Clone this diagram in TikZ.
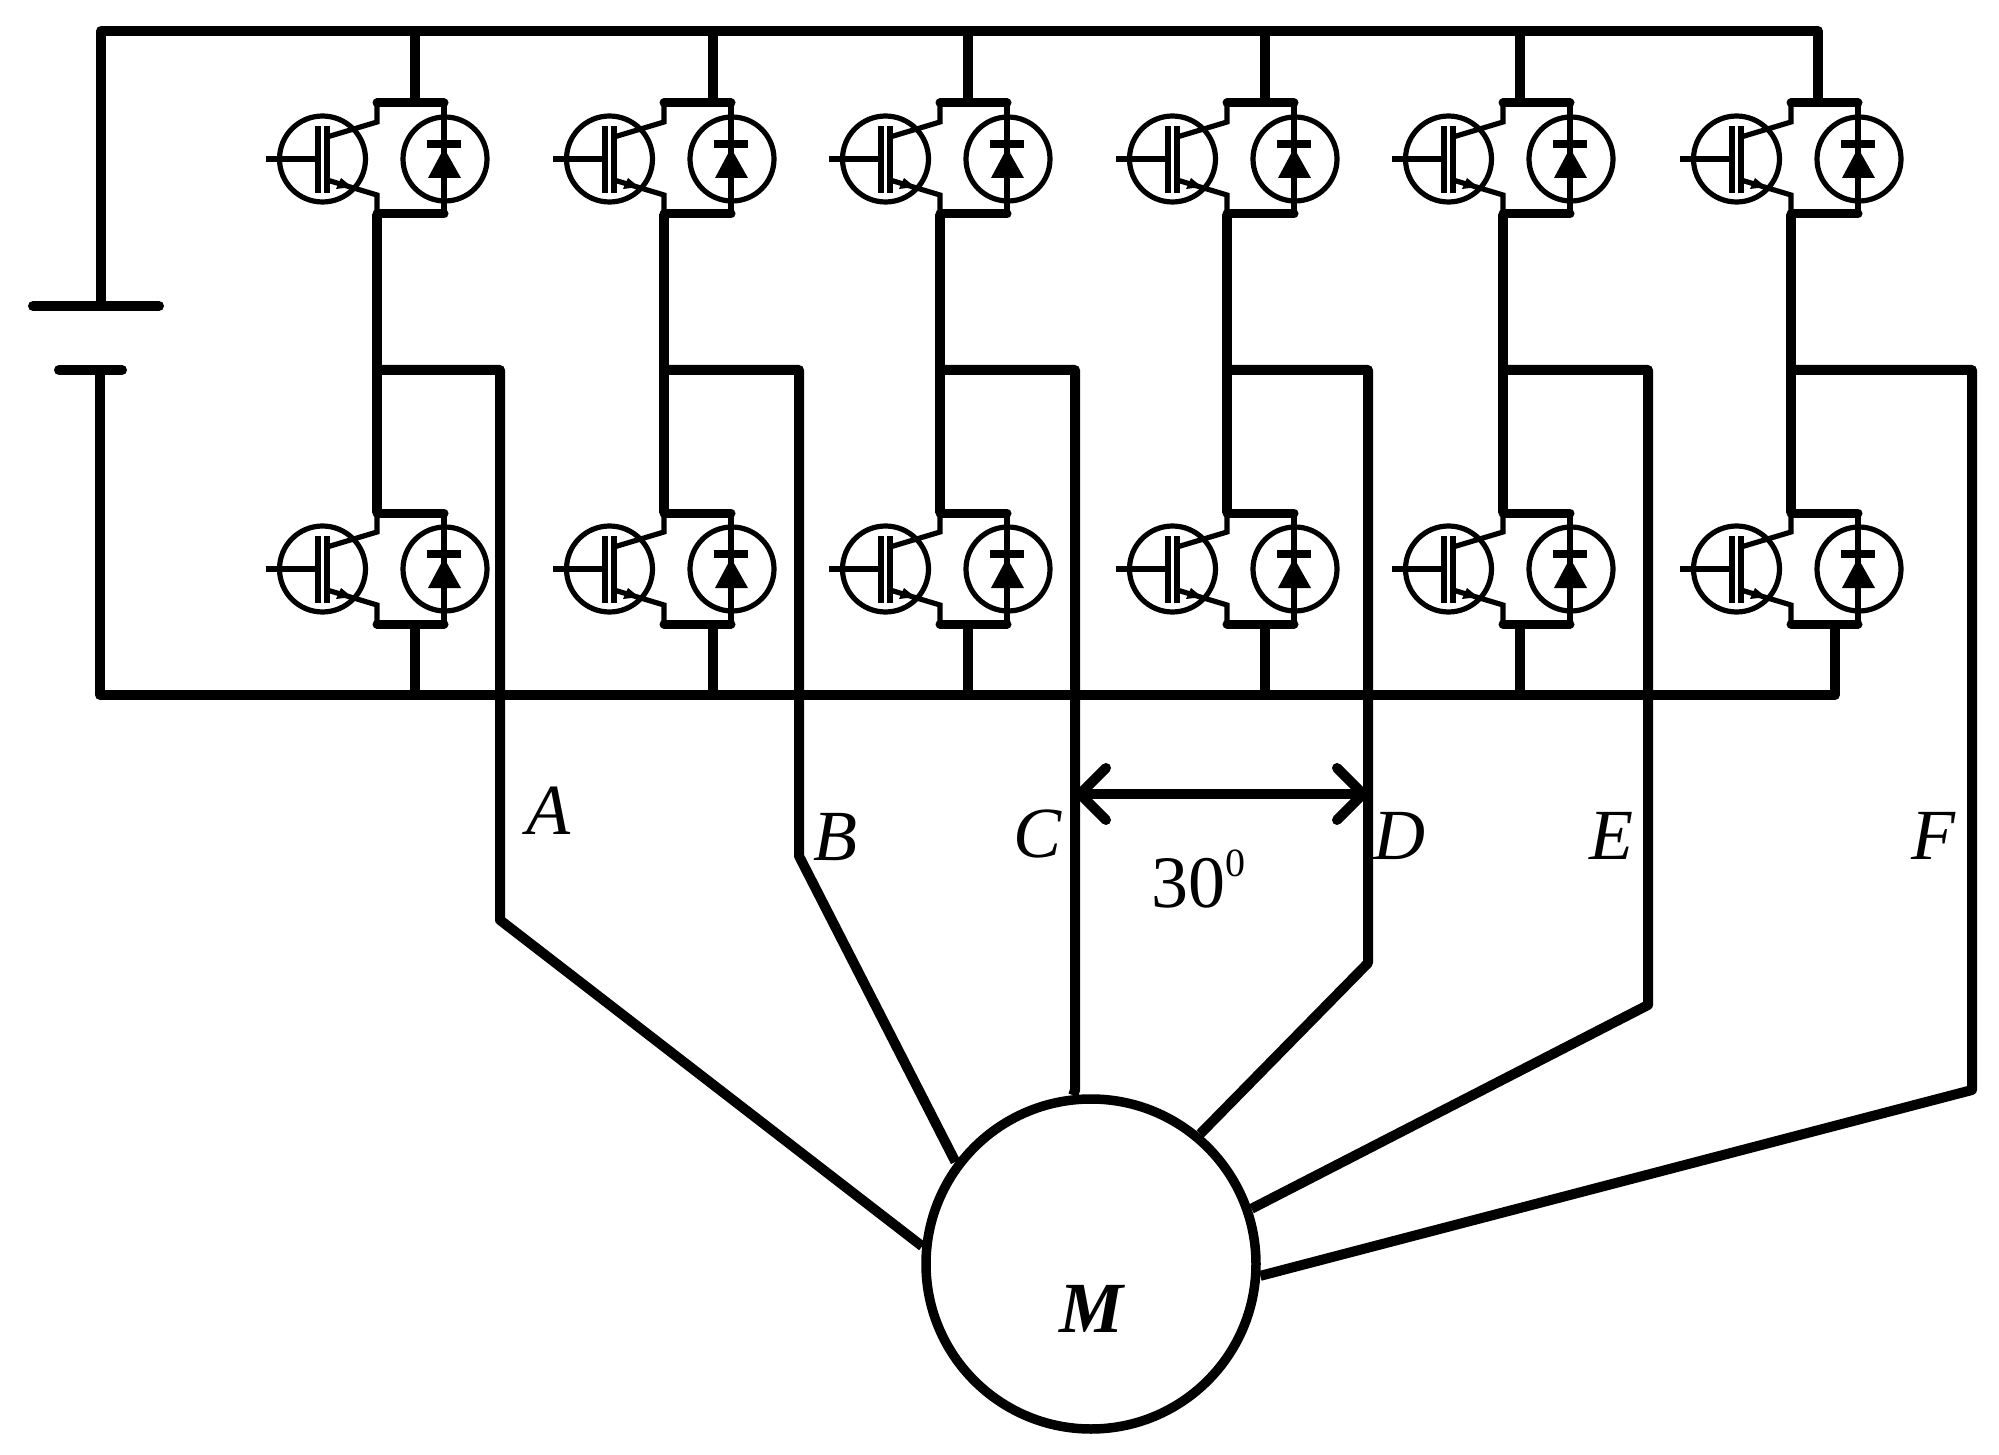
\documentclass[tikz,border=0pt]{standalone}
\usepackage{fontspec}
\setmainfont{Liberation Serif}
\usetikzlibrary{arrows.meta}

\tikzset{
    wire/.style = {line width = 5pt, line join = round},
    thinwire/.style = {line width = 2.6pt},
    barwire/.style = {line width = 4.5pt, line cap = round},
    phaselabel/.style = {font = \fontsize{36}{36}\selectfont\itshape, inner sep = 0pt, anchor = base},
    pics/igbtcell/.style = {code = {
        \draw[thinwire] (-54.5,0) circle (43);
        \draw[thinwire] (-111,0) -- (-59,0);
        \draw[line width = 3pt] (-59,-33) -- (-59,34);
        \draw[line width = 3pt] (-50,-33) -- (-50,34);
        \draw[thinwire] (-50,-22) -- (0,-37) -- (0,-56);
        \draw[thinwire] (-50,21) -- (0,36) -- (0,55);
        \fill (-36,19) -- (-41,30) -- (-25,28) -- cycle;
        \draw[thinwire] (68,0) circle (42);
        \draw[thinwire] (67,-56) -- (67,55);
        \fill (50,-19) rectangle (84,-11);
        \fill (67,-11) -- (84,19) -- (51,19) -- cycle;
        \draw[barwire] (0,-56) -- (67,-56);
        \draw[barwire] (0,55) -- (67,55);
        \coordinate (-top) at (0,-56);
        \coordinate (-bot) at (0,55);
    }},
}

\begin{document}
\begin{tikzpicture}[x = 0.5pt, y = -0.5pt]
\useasboundingbox (0,0) rectangle (1999,1455);

% battery and rails
\coordinate (railtop) at (101,31);
\coordinate (railbot) at (100,695);
\coordinate (platehi) at (101,306);
\coordinate (platelo) at (100,370);
\draw[wire, line cap = round] (33,306) -- (159,306);
\draw[wire, line cap = round] (59,370) -- (122,370);
\draw[wire] (platehi) -- (railtop) -- (1818,31) -- (1818,103);
\draw[wire] (platelo) -- (railbot) -- (1835,695) -- (1835,624);

\node[circle, draw, line width = 4.75pt, inner sep = 0pt, minimum size = 165pt] (motor) at (1091,1264) {};

% one leg per phase
\foreach \xc/\tp/\bt/\rx/\by/\ang/\name in {
    377/38/38/500/920/174.6/a,
    664/49/49/799/856/143/b,
    940/28/28/1075/1090/96/c,
    1227/38/38/1368/963/50.3/d,
    1503/17/17/1648/1005/19/e,
    1791/27/44/1972/1090/-4/f}
{
    \pic (up\name) at (\xc,159) {igbtcell};
    \pic (lo\name) at (\xc,569) {igbtcell};
    \coordinate (topstem\name) at (\xc+\tp,103);
    \coordinate (botstem\name) at (\xc+\bt,624);
    \coordinate (turn\name) at (\rx,370);
    \coordinate (bend\name) at (\rx,\by);
    \draw[wire] (up\name-bot) -- (lo\name-top);
    \draw[wire] (topstem\name) -- (topstem\name |- railtop);
    \draw[wire] (botstem\name) -- (botstem\name |- railbot);
    \draw[wire] (up\name-bot |- turn\name) -- (turn\name) -- (bend\name) -- (motor.\ang);
}

% angle between C and D
\coordinate (arrowc) at (1075,794);
\coordinate (arrowd) at (1368,794);
\draw[wire, {Straight Barb[length = 13pt, width = 26pt, round]}-{Straight Barb[length = 13pt, width = 26pt, round]}] (arrowc) -- (arrowd);

\node[phaselabel] (labela) at (548,834) {A};
\node[phaselabel] (labelb) at (835,860) {B};
\node[phaselabel] (labelc) at (1038,857) {C};
\node[phaselabel] (labeld) at (1399,859) {D};
\node[phaselabel] (labele) at (1611,859) {E};
\node[phaselabel] (labelf) at (1933,859) {F};
\node[font = \fontsize{37}{37}\selectfont, inner sep = 0pt, anchor = base] (angle) at (1198,907) {30\raisebox{15.5pt}{\fontsize{20}{20}\selectfont 0}};
\node[font = \fontsize{36}{36}\selectfont\bfseries\itshape, inner sep = 0pt, anchor = base] (motorlabel) at (1091,1332) {M};
\end{tikzpicture}
\end{document}
